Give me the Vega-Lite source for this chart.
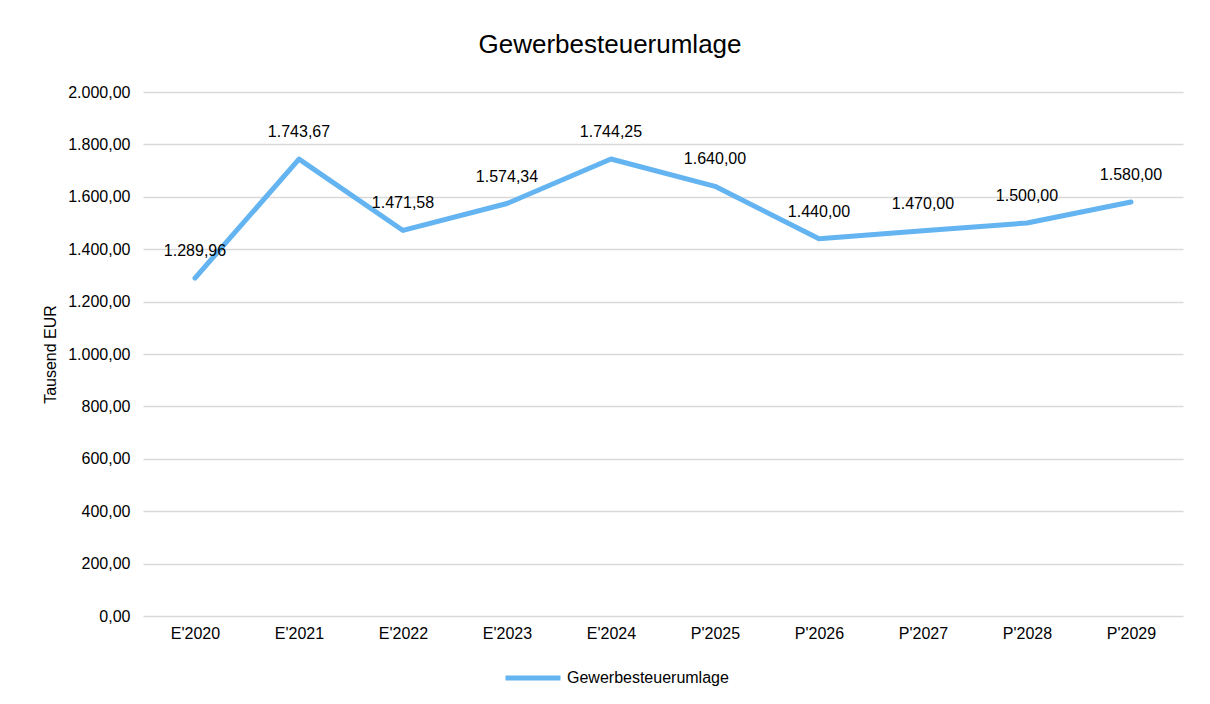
{
  "$schema": "https://vega.github.io/schema/vega-lite/v6.json",
  "width": 1040,
  "height": 524,
  "autosize": {"type": "none"},
  "padding": {"left": 143, "top": 92, "right": 27, "bottom": 88},
  "background": "white",
  "config": {
    "font": "Liberation Sans",
    "locale": {"number": {"decimal": ",", "thousands": ".", "grouping": [3], "currency": ["", " €"]}},
    "view": {"stroke": null}
  },
  "title": {
    "text": "Gewerbesteuerumlage",
    "fontSize": 26,
    "fontWeight": "normal",
    "color": "#000000",
    "offset": 26,
    "dx": -53
  },
  "data": {
    "values": [
      {"jahr": "E'2020", "wert": 1289.96, "reihe": "Gewerbesteuerumlage"},
      {"jahr": "E'2021", "wert": 1743.67, "reihe": "Gewerbesteuerumlage"},
      {"jahr": "E'2022", "wert": 1471.58, "reihe": "Gewerbesteuerumlage"},
      {"jahr": "E'2023", "wert": 1574.34, "reihe": "Gewerbesteuerumlage"},
      {"jahr": "E'2024", "wert": 1744.25, "reihe": "Gewerbesteuerumlage"},
      {"jahr": "P'2025", "wert": 1640.0, "reihe": "Gewerbesteuerumlage"},
      {"jahr": "P'2026", "wert": 1440.0, "reihe": "Gewerbesteuerumlage"},
      {"jahr": "P'2027", "wert": 1470.0, "reihe": "Gewerbesteuerumlage"},
      {"jahr": "P'2028", "wert": 1500.0, "reihe": "Gewerbesteuerumlage"},
      {"jahr": "P'2029", "wert": 1580.0, "reihe": "Gewerbesteuerumlage"}
    ]
  },
  "encoding": {
    "x": {
      "field": "jahr",
      "type": "ordinal",
      "sort": null,
      "scale": {"paddingInner": 0, "paddingOuter": 0, "align": 0.5},
      "axis": {
        "title": null,
        "labelAngle": 0,
        "labelFontSize": 16,
        "labelColor": "#000000",
        "labelPadding": 9,
        "ticks": false,
        "domain": false,
        "grid": false
      }
    },
    "y": {
      "field": "wert",
      "type": "quantitative",
      "scale": {"domain": [0, 2000], "nice": false, "zero": true},
      "axis": {
        "title": "Tausend EUR",
        "titleFontSize": 16,
        "titleFontWeight": "normal",
        "titleColor": "#000000",
        "titlePadding": 9,
        "values": [0, 200, 400, 600, 800, 1000, 1200, 1400, 1600, 1800, 2000],
        "format": ",.2f",
        "labelFontSize": 16,
        "labelColor": "#000000",
        "labelPadding": 13,
        "ticks": false,
        "domain": false,
        "grid": true,
        "gridColor": "#d9d9d9",
        "gridWidth": 1.5
      }
    }
  },
  "layer": [
    {
      "mark": {"type": "line", "strokeWidth": 5, "strokeCap": "round", "strokeJoin": "round"},
      "encoding": {
        "color": {
          "field": "reihe",
          "type": "nominal",
          "scale": {"range": ["#63b4f0"]},
          "legend": {
            "title": null,
            "orient": "none",
            "legendX": 360,
            "legendY": 556,
            "symbolType": "stroke",
            "symbolSize": 3025,
            "symbolStrokeWidth": 5,
            "labelFontSize": 16,
            "labelColor": "#000000",
            "labelOffset": 4,
            "labelLimit": 400
          }
        }
      }
    },
    {
      "mark": {"type": "text", "dy": -27, "fontSize": 16, "color": "#000000"},
      "encoding": {
        "text": {"field": "wert", "type": "quantitative", "format": ",.2f"}
      }
    }
  ]
}
